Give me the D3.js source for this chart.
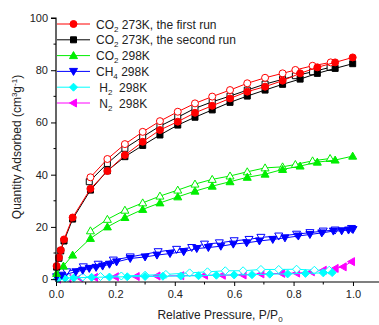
<!DOCTYPE html>
<html lang="en">
<head>
<meta charset="utf-8">
<script src="https://cdn.jsdelivr.net/npm/d3@7"></script>
<title>Adsorption isotherms</title>
<style>
body { margin: 0; background: #ffffff; }
svg text { font-family: "Liberation Sans", Arial, sans-serif; fill: #222; }
</style>
</head>
<body>
<script>
// CO2 273K, first run
var co2aP = [0.002, 0.01, 0.016, 0.027, 0.056, 0.116, 0.173, 0.232, 0.292, 0.35, 0.41, 0.468, 0.526, 0.586, 0.644, 0.704, 0.763, 0.822, 0.88, 0.94, 0.999];
var co2aV = [5.0, 8.3, 11.1, 15.2, 23.6, 34.6, 41.4, 47.5, 52.6, 57.1, 60.3, 63.7, 66.4, 69.2, 71.8, 73.7, 76.0, 78.8, 81.1, 83.0, 84.9];
var co2aDP = [0.925, 0.864, 0.806, 0.763, 0.704, 0.644, 0.586, 0.526, 0.468, 0.41, 0.35, 0.292, 0.232, 0.173, 0.116];
var co2aDV = [83.0, 81.7, 80.1, 78.8, 77.1, 75.0, 72.4, 69.9, 67.3, 64.1, 60.5, 56.4, 51.7, 46.0, 39.0];
// CO2 273K, second run
var co2bP = [0.002, 0.01, 0.016, 0.027, 0.056, 0.116, 0.173, 0.232, 0.292, 0.35, 0.41, 0.468, 0.526, 0.586, 0.644, 0.704, 0.763, 0.822, 0.88, 0.94, 0.999];
var co2bV = [4.6, 8.0, 10.8, 14.6, 23.0, 34.1, 41.5, 46.9, 51.2, 55.2, 59.0, 62.0, 64.8, 67.7, 70.1, 72.4, 74.6, 76.6, 78.8, 80.7, 82.5];
var co2bDP = [0.923, 0.864, 0.806, 0.763, 0.704, 0.644, 0.586, 0.526, 0.468, 0.41, 0.35, 0.292, 0.232, 0.173, 0.112];
var co2bDV = [81.1, 79.4, 77.9, 76.5, 74.7, 72.4, 70.1, 67.9, 65.4, 62.0, 58.6, 54.5, 50.1, 44.3, 37.3];
// CO2 298K
var co2cP = [0.002, 0.025, 0.056, 0.116, 0.173, 0.232, 0.292, 0.35, 0.41, 0.468, 0.526, 0.586, 0.644, 0.704, 0.763, 0.822, 0.88, 0.94, 0.999];
var co2cV = [2.2, 5.0, 9.2, 15.6, 20.0, 23.6, 26.7, 29.2, 31.5, 33.7, 35.6, 37.3, 39.0, 40.2, 42.0, 43.3, 44.8, 45.6, 47.1];
var co2cDP = [0.923, 0.864, 0.806, 0.763, 0.704, 0.644, 0.586, 0.526, 0.468, 0.41, 0.35, 0.292, 0.232, 0.173, 0.116];
var co2cDV = [46.2, 45.3, 43.9, 43.0, 42.6, 41.1, 39.5, 38.2, 36.4, 34.1, 31.8, 29.2, 26.4, 22.9, 18.5];
// CH4 298K
var ch4P = [0.002, 0.019, 0.067, 0.09, 0.112, 0.135, 0.157, 0.18, 0.204, 0.25, 0.3, 0.34, 0.384, 0.43, 0.474, 0.513, 0.555, 0.597, 0.642, 0.685, 0.73, 0.771, 0.816, 0.855, 0.895, 0.934, 0.962, 0.985, 1.0];
var ch4V = [0.9, 1.5, 2.8, 3.4, 4.1, 4.5, 5.0, 5.7, 6.6, 7.9, 8.5, 9.2, 9.8, 10.5, 11.7, 12.1, 12.6, 13.4, 13.9, 14.6, 15.2, 15.8, 16.5, 17.1, 17.7, 18.4, 18.5, 18.8, 19.0];
var ch4DP = [0.995, 0.94, 0.9, 0.855, 0.81, 0.75, 0.69, 0.65, 0.6, 0.55, 0.5, 0.457, 0.406, 0.344, 0.25, 0.193, 0.142, 0.092, 0.036];
var ch4DV = [19.4, 18.8, 18.4, 17.8, 17.2, 16.5, 16.0, 15.2, 14.7, 13.9, 13.4, 12.1, 11.4, 10.5, 8.5, 7.3, 5.7, 4.7, 2.8];
// H2 298K
var h2P = [0.005, 0.03, 0.06, 0.12, 0.18, 0.24, 0.3, 0.36, 0.42, 0.48, 0.54, 0.6, 0.66, 0.72, 0.78, 0.84, 0.9, 0.93];
var h2V = [0.2, 0.4, 0.5, 0.7, 0.8, 0.9, 1.0, 1.1, 1.2, 1.3, 1.5, 1.6, 1.7, 1.9, 2.0, 2.2, 2.4, 2.5];
var h2DP = [0.92, 0.87, 0.81, 0.75, 0.69, 0.63, 0.57, 0.51, 0.45, 0.37, 0.3, 0.22, 0.15, 0.09, 0.04, 0.01];
var h2DV = [3.4, 3.4, 3.8, 3.7, 3.7, 3.2, 3.2, 2.8, 2.4, 1.8, 1.5, 1.2, 1.0, 0.8, 0.6, 0.4];
// N2 298K
var n2P = [0.005, 0.04, 0.08, 0.13, 0.2, 0.27, 0.34, 0.42, 0.5, 0.56, 0.63, 0.69, 0.76, 0.81, 0.86, 0.9, 0.94, 0.967, 0.995];
var n2V = [0.0, 0.3, 0.5, 0.7, 0.9, 1.0, 1.2, 1.3, 1.5, 1.5, 1.6, 2.0, 2.2, 2.3, 2.8, 3.4, 4.1, 4.7, 6.7];

var xTicks = [0, 0.2, 0.4, 0.6, 0.8, 1.0];
var xMinor = [0.1, 0.3, 0.5, 0.7, 0.9];
var yTicks = [0, 20, 40, 60, 80, 100];
var yMinor = [10, 30, 50, 70, 90];

var width = 379, height = 325;

var x = d3.scaleLinear().domain([0, 1.09]).range([56, 379.7]);
var y = d3.scaleLinear().domain([-1.1, 100]).range([282, 18]);

var svg = d3.select("body").append("svg")
  .attr("width", width)
  .attr("height", height);

// marker shapes, drawn around 0,0
function marker(shape) {
  var s = 3.5;
  if (shape == "circle") return "M" + (-s) + ",0A" + s + "," + s + " 0 1,1 " + s + ",0A" + s + "," + s + " 0 1,1 " + (-s) + ",0Z";
  if (shape == "square") return "M-3,-3H3V3H-3Z";
  if (shape == "up") return "M0,-4L4,3L-4,3Z";
  if (shape == "down") return "M0,4L4,-3L-4,-3Z";
  if (shape == "left") return "M-4,0L3,-4L3,4Z";
  if (shape == "diamond") return "M0,-4L4,0L0,4L-4,0Z";
}

var series = [
  { name: ["CO", "2", " 273K, the first run"], color: "#ff0000", shape: "circle", ads: [co2aP, co2aV], des: [co2aDP, co2aDV] },
  { name: ["CO", "2", " 273K, the second run"], color: "#000000", shape: "square", ads: [co2bP, co2bV], des: [co2bDP, co2bDV] },
  { name: ["CO", "2", " 298K"], color: "#00ee00", shape: "up", ads: [co2cP, co2cV], des: [co2cDP, co2cDV] },
  { name: ["CH", "4", " 298K"], color: "#0000ff", shape: "down", ads: [ch4P, ch4V], des: [ch4DP, ch4DV] },
  { name: [" H", "2", "  298K"], color: "#00ffff", shape: "diamond", ads: [h2P, h2V], des: [h2DP, h2DV] },
  { name: [" N", "2", "  298K"], color: "#ff00ff", shape: "left", ads: [n2P, n2V], des: null }
];

var line = d3.line()
  .x(function(d) { return x(d[0]); })
  .y(function(d) { return y(d[1]); });

function pairs(arr) {
  return arr[0].map(function(p, i) { return [p, arr[1][i]]; });
}

// draw back to front so red stays on top
series.slice().reverse().forEach(function(s) {
  var g = svg.append("g");
  var sets = [];
  if (s.des) sets.push({ pts: pairs(s.des), open: true });
  sets.push({ pts: pairs(s.ads), open: false });
  sets.forEach(function(set) {
    g.append("path")
      .attr("d", line(set.pts))
      .attr("fill", "none")
      .attr("stroke", s.color)
      .attr("stroke-width", 1);
    g.selectAll(null)
      .data(set.pts)
      .enter()
      .append("path")
      .attr("transform", function(d) { return "translate(" + x(d[0]) + "," + y(d[1]) + ")"; })
      .attr("d", marker(s.shape))
      .attr("fill", set.open ? "#ffffff" : s.color)
      .attr("stroke", s.color)
      .attr("stroke-width", 1);
  });
});

// axes
var xAxis = d3.axisBottom(x).tickValues(xTicks).tickFormat(d3.format(".1f")).tickSize(4).tickPadding(4);
var yAxis = d3.axisLeft(y).tickValues(yTicks).tickFormat(d3.format("d")).tickSize(5).tickPadding(3);

var gx = svg.append("g").attr("transform", "translate(0,282)").call(xAxis);
var gy = svg.append("g").attr("transform", "translate(56,0)").call(yAxis);

gx.append("g").selectAll("line").data(xMinor).enter().append("line")
  .attr("x1", function(d) { return x(d); }).attr("x2", function(d) { return x(d); })
  .attr("y1", 0).attr("y2", 2.5).attr("stroke", "#000");
gy.append("g").selectAll("line").data(yMinor).enter().append("line")
  .attr("y1", function(d) { return y(d); }).attr("y2", function(d) { return y(d); })
  .attr("x1", 0).attr("x2", -2.5).attr("stroke", "#000");

[gx, gy].forEach(function(g) {
  g.select(".domain").attr("stroke", "#000").attr("stroke-width", 1.2);
  g.selectAll(".tick line").attr("stroke", "#000");
  g.selectAll("text").style("font-size", "11px").attr("fill", "#222");
});
gy.select(".domain").attr("d", "M-5," + y(100) + "H0V282");
gx.select(".domain").attr("d", "M56,0H379");

// axis titles
var xt = svg.append("text")
  .attr("x", 220)
  .attr("y", 319)
  .attr("text-anchor", "middle")
  .style("font-size", "12px");
xt.append("tspan").text("Relative Pressure, P/P");
xt.append("tspan").attr("dy", 3).style("font-size", "8px").text("0");

var yt = svg.append("text")
  .attr("transform", "translate(21,147) rotate(-90)")
  .attr("text-anchor", "middle")
  .style("font-size", "12px");
yt.append("tspan").text("Quantity Adsorbed (cm");
yt.append("tspan").attr("dy", -4).style("font-size", "8px").text("3");
yt.append("tspan").attr("dy", 4).text("g");
yt.append("tspan").attr("dy", -4).style("font-size", "8px").text("-1");
yt.append("tspan").attr("dy", 4).text(")");

// legend
var legend = svg.append("g");
series.forEach(function(s, i) {
  var ly = 24 + i * 15.8;
  legend.append("line")
    .attr("x1", 57).attr("x2", 90)
    .attr("y1", ly).attr("y2", ly)
    .attr("stroke", s.color).attr("stroke-width", 1);
  legend.append("path")
    .attr("transform", "translate(73.5," + ly + ")")
    .attr("d", marker(s.shape))
    .attr("fill", s.color)
    .attr("stroke", s.color);
  var t = legend.append("text")
    .attr("x", 96)
    .attr("y", ly + 4.5)
    .attr("xml:space", "preserve")
    .style("font-size", "12px");
  t.append("tspan").text(s.name[0]);
  t.append("tspan").attr("dy", 3).style("font-size", "8px").text(s.name[1]);
  t.append("tspan").attr("dy", -3).text(s.name[2]);
});
</script>
</body>
</html>
